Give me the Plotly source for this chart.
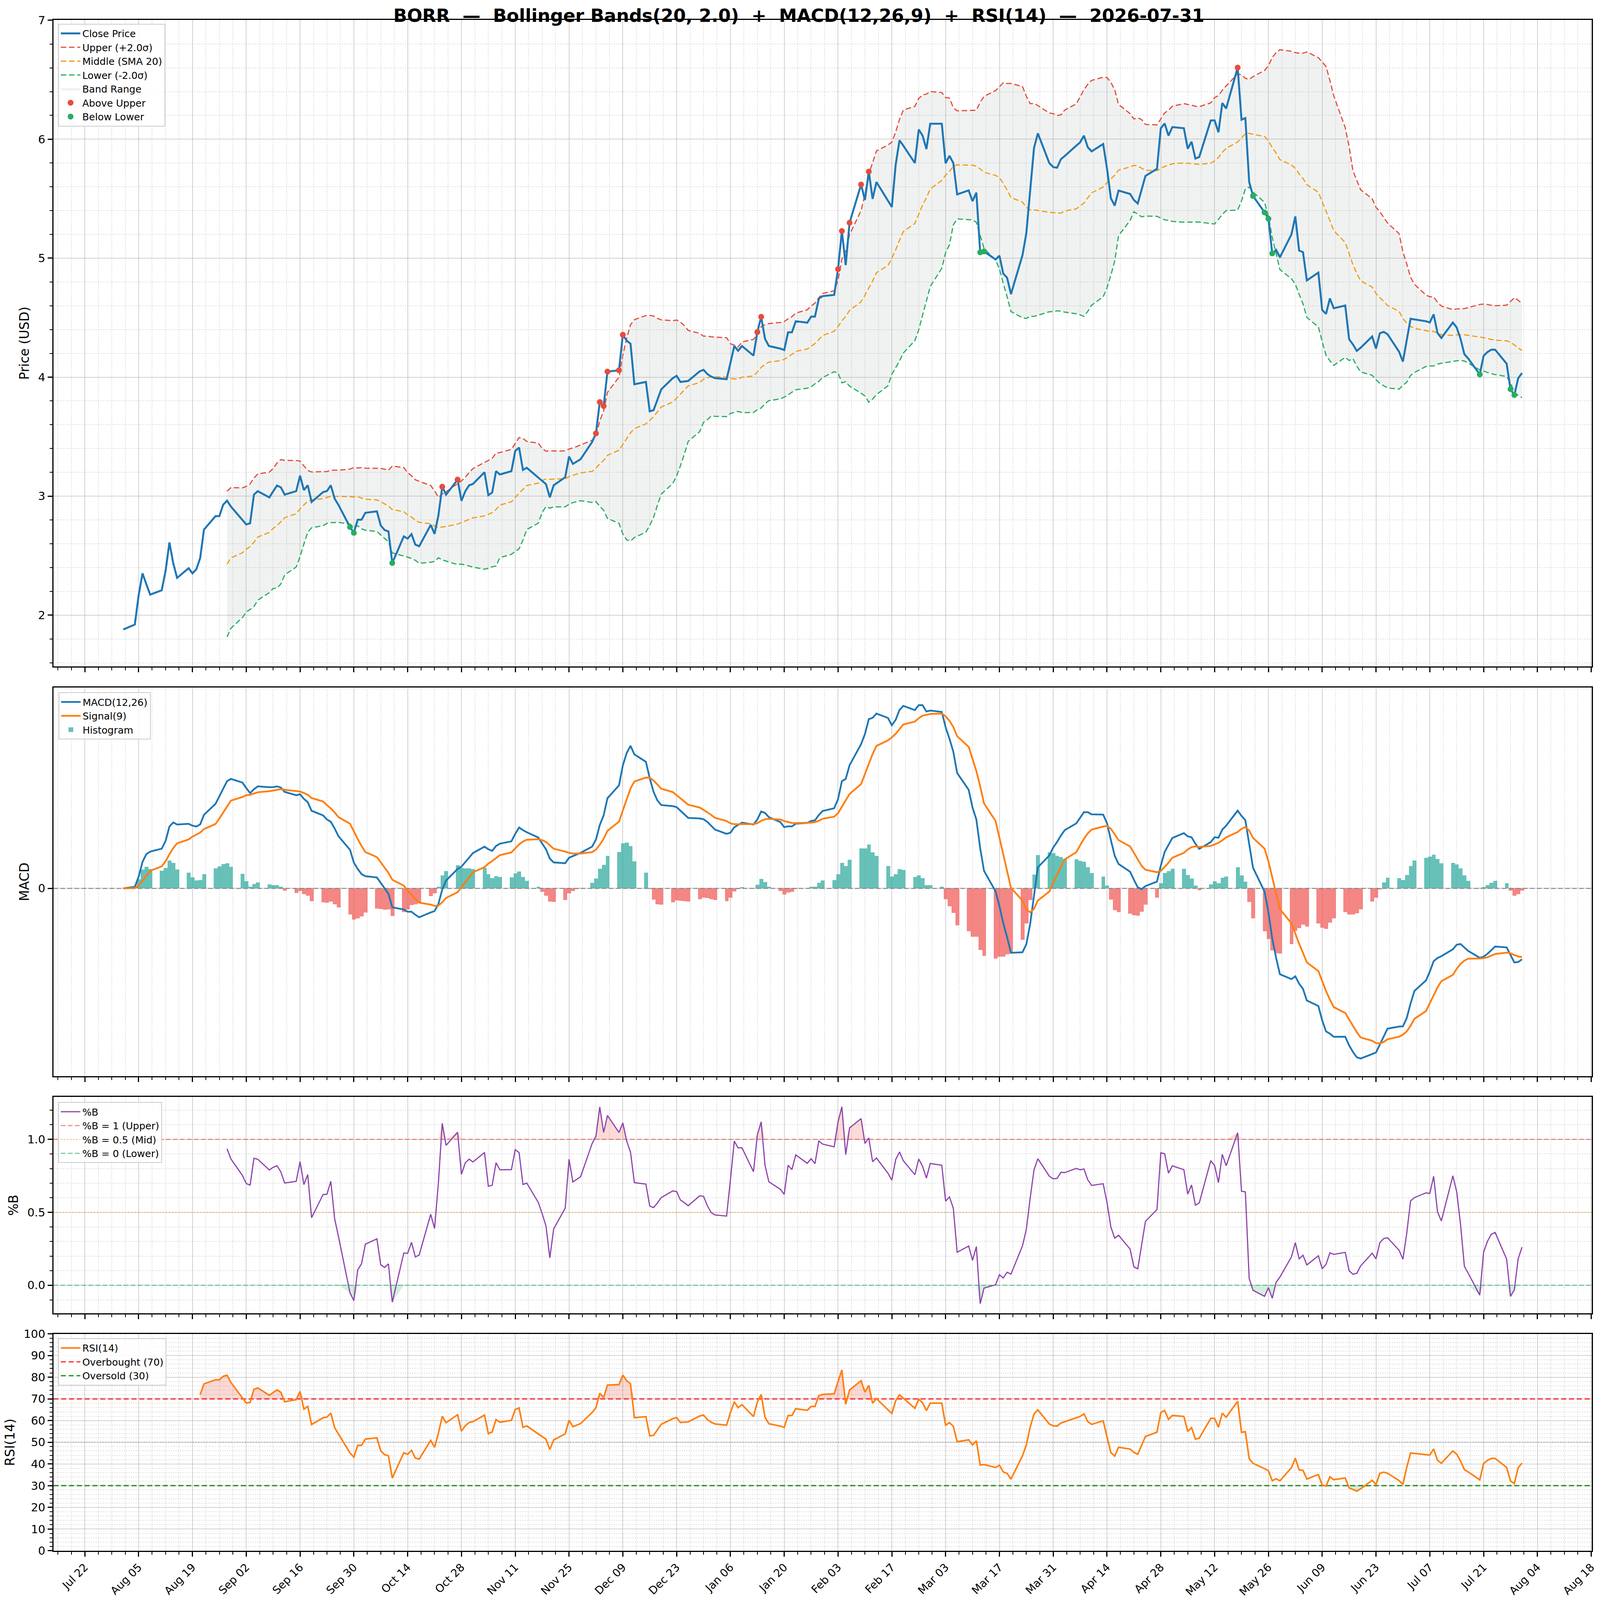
import numpy as np
import pandas as pd
import plotly.graph_objects as go
from plotly.subplots import make_subplots

# daily closes (business days)
close_aug = [1.879, 1.921, 2.168, 2.351, 2.26, 2.172, 2.209, 2.370, 2.611, 2.436, 2.313,
             2.394, 2.351, 2.385, 2.479, 2.719, 2.832, 2.832, 2.928, 2.962, 2.913]
close_sep = [2.80, 2.762, 2.772, 3.013, 3.042, 2.989, 3.04, 3.089, 3.074, 3.013,
             3.042, 3.172, 3.051, 3.091, 2.951, 3.034, 3.043, 3.091, 2.979, 2.926,
             2.740, 2.692]
close_oct = [2.802, 2.802, 2.860, 2.872, 2.753, 2.715, 2.704, 2.438, 2.662, 2.643,
             2.681, 2.592, 2.579, 2.758, 2.683, 2.838, 3.079, 3.013, 3.139, 2.961,
             3.041, 3.091, 3.103]
close_nov = [3.201, 3.008, 3.031, 3.210, 3.182, 3.210, 3.380, 3.408, 3.220, 3.238,
             3.155, 3.127, 3.101, 2.990, 3.091, 3.159, 3.333, 3.271, 3.29, 3.310]
close_dec = [3.455, 3.527, 3.791, 3.757, 4.047, 4.058, 4.356, 4.307, 4.281, 3.940,
             3.960, 3.713, 3.723, 3.810, 3.898, 3.992, 4.011, 3.960, 3.965, 3.968,
             4.049, 4.062, 4.026]
close_jan = [4.005, 3.992, 3.983, 4.119, 4.262, 4.222, 4.262, 4.181, 4.379, 4.507,
             4.322, 4.262, 4.240, 4.228, 4.377, 4.377, 4.470, 4.458, 4.509, 4.509,
             4.660, 4.681]
close_feb = [4.691, 4.908, 5.228, 4.942, 5.298, 5.619, 5.489, 5.728, 5.498, 5.640,
             5.481, 5.430, 5.785, 5.991, 5.945, 5.800, 6.081, 6.030, 5.917, 6.130]
close_mar = [6.130, 5.798, 5.860, 5.800, 5.536, 5.570, 5.479, 5.551, 5.049, 5.057,
             4.989, 5.021, 4.870, 4.836, 4.698, 5.025, 5.209, 5.577, 5.926, 6.049,
             5.798, 5.766]
close_apr = [5.760, 5.832, 5.859, 5.946, 5.974, 6.030, 5.932, 5.898, 5.960, 5.753,
             5.504, 5.442, 5.568, 5.540, 5.489, 5.460, 5.572, 5.691, 5.751, 6.092,
             6.132, 6.030]
close_may = [6.102, 6.092, 5.921, 5.979, 5.838, 5.851, 6.158, 6.158, 6.058, 6.304,
             6.258, 6.602, 6.164, 6.177, 5.640, 5.523, 5.385, 5.332, 5.040, 5.070,
             5.008]
close_jun = [5.200, 5.351, 5.064, 5.051, 4.813, 4.879, 4.564, 4.532, 4.662, 4.579,
             4.602, 4.319, 4.275, 4.221, 4.247, 4.342, 4.240, 4.369, 4.381, 4.361,
             4.214, 4.131]
close_jul = [4.312, 4.491, 4.485, 4.470, 4.460, 4.528, 4.372, 4.329, 4.459, 4.417,
             4.322, 4.193, 4.157, 4.023, 4.179, 4.211, 4.231, 4.231, 4.113, 3.899,
             3.850, 3.991, 4.035]

dates = pd.bdate_range("2025-08-01", "2026-07-31")
close = pd.Series(close_aug + close_sep + close_oct + close_nov + close_dec + close_jan +
                  close_feb + close_mar + close_apr + close_may + close_jun + close_jul,
                  index=dates)

# indicators
mid = close.rolling(20).mean()
std = close.rolling(20).std()
upper = mid + 2.0 * std
lower = mid - 2.0 * std
pctb = (close - lower) / (upper - lower)

macd = close.ewm(span=12, adjust=False).mean() - close.ewm(span=26, adjust=False).mean()
signal = macd.ewm(span=9, adjust=False).mean()
hist = macd - signal

delta = close.diff()
gain = delta.clip(lower=0).ewm(alpha=1 / 14, min_periods=14, adjust=False).mean()
loss = (-delta.clip(upper=0)).ewm(alpha=1 / 14, min_periods=14, adjust=False).mean()
rsi = 100 - 100 / (1 + gain / loss)

above = close[close > upper]
below = close[close < lower]

span = dates[-1] - dates[0]
x_lo = dates[0] - span * 0.05
x_hi = dates[-1] + span * 0.05
xr = [x_lo, x_hi]

FONT = "DejaVu Sans"
DAY = 86400000

fig = make_subplots(rows=4, cols=1, shared_xaxes=True)

# ---- price panel
bv = mid.dropna().index
fig.add_trace(go.Scatter(x=list(bv) + list(bv[::-1]),
                         y=list(upper[bv]) + list(lower[bv][::-1]),
                         fill="toself", fillcolor="rgba(149,165,166,0.14)",
                         line=dict(width=0), mode="lines", name="Band Range",
                         legendrank=5, hoverinfo="skip"), row=1, col=1)
fig.add_trace(go.Scatter(x=dates, y=upper, mode="lines", name="Upper (+2.0σ)",
                         line=dict(color="#e74c3c", width=3, dash="14px,7px"),
                         legendrank=2), row=1, col=1)
fig.add_trace(go.Scatter(x=dates, y=mid, mode="lines", name="Middle (SMA 20)",
                         line=dict(color="#f39c12", width=3, dash="14px,7px"),
                         legendrank=3), row=1, col=1)
fig.add_trace(go.Scatter(x=dates, y=lower, mode="lines", name="Lower (-2.0σ)",
                         line=dict(color="#27ae60", width=3, dash="14px,7px"),
                         legendrank=4), row=1, col=1)
fig.add_trace(go.Scatter(x=dates, y=close, mode="lines", name="Close Price",
                         line=dict(color="#1f77b4", width=5), legendrank=1), row=1, col=1)
fig.add_trace(go.Scatter(x=above.index, y=above, mode="markers", name="Above Upper",
                         marker=dict(color="#e74c3c", size=15), legendrank=6), row=1, col=1)
fig.add_trace(go.Scatter(x=below.index, y=below, mode="markers", name="Below Lower",
                         marker=dict(color="#27ae60", size=15), legendrank=7), row=1, col=1)

# ---- MACD panel
bar_colors = np.where(hist >= 0, "rgba(38,166,154,0.7)", "rgba(239,83,80,0.7)")
fig.add_trace(go.Bar(x=dates, y=hist, width=DAY, marker=dict(color=bar_colors, line=dict(width=0)),
                     name="Histogram", legend="legend2", legendrank=3), row=2, col=1)
fig.add_trace(go.Scatter(x=xr, y=[0, 0], mode="lines", showlegend=False, hoverinfo="skip",
                         line=dict(color="#888888", width=2.5, dash="12px,6px")), row=2, col=1)
fig.add_trace(go.Scatter(x=dates, y=macd, mode="lines", name="MACD(12,26)", legend="legend2",
                         line=dict(color="#1f77b4", width=4.5), legendrank=1), row=2, col=1)
fig.add_trace(go.Scatter(x=dates, y=signal, mode="lines", name="Signal(9)", legend="legend2",
                         line=dict(color="#ff7f0e", width=4.5), legendrank=2), row=2, col=1)

# ---- %B panel
pv = pctb.dropna()
fig.add_trace(go.Scatter(x=pv.index, y=np.ones(len(pv)), mode="lines", line=dict(width=0),
                         showlegend=False, hoverinfo="skip"), row=3, col=1)
fig.add_trace(go.Scatter(x=pv.index, y=np.maximum(pv, 1), mode="lines", line=dict(width=0),
                         fill="tonexty", fillcolor="rgba(231,76,60,0.2)",
                         showlegend=False, hoverinfo="skip"), row=3, col=1)
fig.add_trace(go.Scatter(x=pv.index, y=np.zeros(len(pv)), mode="lines", line=dict(width=0),
                         showlegend=False, hoverinfo="skip"), row=3, col=1)
fig.add_trace(go.Scatter(x=pv.index, y=np.minimum(pv, 0), mode="lines", line=dict(width=0),
                         fill="tonexty", fillcolor="rgba(39,174,96,0.2)",
                         showlegend=False, hoverinfo="skip"), row=3, col=1)
fig.add_trace(go.Scatter(x=xr, y=[1, 1], mode="lines", name="%B = 1 (Upper)", legend="legend3",
                         line=dict(color="rgba(231,76,60,0.7)", width=2.5, dash="12px,6px"),
                         legendrank=2), row=3, col=1)
fig.add_trace(go.Scatter(x=xr, y=[0.5, 0.5], mode="lines", name="%B = 0.5 (Mid)", legend="legend3",
                         line=dict(color="rgba(243,156,18,0.6)", width=2.5, dash="3px,5px"),
                         legendrank=3), row=3, col=1)
fig.add_trace(go.Scatter(x=xr, y=[0, 0], mode="lines", name="%B = 0 (Lower)", legend="legend3",
                         line=dict(color="rgba(39,174,96,0.7)", width=2.5, dash="12px,6px"),
                         legendrank=4), row=3, col=1)
fig.add_trace(go.Scatter(x=pv.index, y=pv, mode="lines", name="%B", legend="legend3",
                         line=dict(color="#8e44ad", width=3), legendrank=1), row=3, col=1)

# ---- RSI panel
rv = rsi.dropna()
fig.add_trace(go.Scatter(x=rv.index, y=np.full(len(rv), 70.0), mode="lines", line=dict(width=0),
                         showlegend=False, hoverinfo="skip"), row=4, col=1)
fig.add_trace(go.Scatter(x=rv.index, y=np.maximum(rv, 70), mode="lines", line=dict(width=0),
                         fill="tonexty", fillcolor="rgba(231,76,60,0.22)",
                         showlegend=False, hoverinfo="skip"), row=4, col=1)
fig.add_trace(go.Scatter(x=rv.index, y=np.full(len(rv), 30.0), mode="lines", line=dict(width=0),
                         showlegend=False, hoverinfo="skip"), row=4, col=1)
fig.add_trace(go.Scatter(x=rv.index, y=np.minimum(rv, 30), mode="lines", line=dict(width=0),
                         fill="tonexty", fillcolor="rgba(39,174,96,0.22)",
                         showlegend=False, hoverinfo="skip"), row=4, col=1)
fig.add_trace(go.Scatter(x=xr, y=[70, 70], mode="lines", name="Overbought (70)", legend="legend4",
                         line=dict(color="rgba(255,0,0,0.75)", width=3.5, dash="13px,7px"),
                         legendrank=2), row=4, col=1)
fig.add_trace(go.Scatter(x=xr, y=[30, 30], mode="lines", name="Oversold (30)", legend="legend4",
                         line=dict(color="rgba(0,128,0,0.8)", width=3.5, dash="13px,7px"),
                         legendrank=3), row=4, col=1)
fig.add_trace(go.Scatter(x=xr, y=[50, 50], mode="lines", showlegend=False, hoverinfo="skip",
                         line=dict(color="rgba(128,128,128,0.6)", width=2.5, dash="3px,4px")), row=4, col=1)
fig.add_trace(go.Scatter(x=rv.index, y=rv, mode="lines", name="RSI(14)", legend="legend4",
                         line=dict(color="#ff7f0e", width=4), legendrank=1), row=4, col=1)

# ---- axes
H = 4322.0
y_domains = [
    [1 - 1800 / H, 1 - 54 / H],
    [1 - 2907 / H, 1 - 1857 / H],
    [1 - 3548 / H, 1 - 2963 / H],
    [1 - 4189 / H, 1 - 3603 / H],
]
x_dom = [146 / 4378, 4356 / 4378]

grid_major = "rgba(180,180,180,0.6)"
grid_minor = "rgba(200,200,200,0.6)"
tickfont = dict(family=FONT, size=29, color="black")
labelfont = dict(family=FONT, size=33, color="black")

for i in range(1, 5):
    fig.update_xaxes(row=i, col=1, domain=x_dom, range=xr, type="date",
                     tick0="2025-07-22", dtick=14 * DAY, tickformat="%b %d",
                     ticks="outside", ticklen=12, tickwidth=2.5, tickcolor="black",
                     showline=True, linecolor="black", linewidth=2.5, mirror=True,
                     showgrid=True, gridcolor=grid_major, gridwidth=2,
                     minor=dict(dtick=3.5 * DAY, tick0="2025-07-22", ticks="outside",
                                ticklen=7, tickwidth=2, tickcolor="black", showgrid=True,
                                gridcolor=grid_minor, gridwidth=1.5, griddash="dot"),
                     showticklabels=(i == 4), tickangle=-45,
                     tickfont=dict(family=FONT, size=28, color="black"),
                     zeroline=False, automargin=False)

yax_common = dict(ticks="outside", ticklen=12, tickwidth=2.5, tickcolor="black",
                  showline=True, linecolor="black", linewidth=2.5, mirror=True,
                  showgrid=True, gridcolor=grid_major, gridwidth=2, zeroline=False,
                  tickfont=tickfont, title_standoff=14, automargin=False)

# price
pmin = min(lower.min(), close.min())
pmax = max(upper.max(), close.max())
pp = (pmax - pmin) * 0.05
fig.update_yaxes(row=1, col=1, domain=y_domains[0], range=[pmin - pp, max(pmax + pp, 7.002)],
                 tick0=0, dtick=1, title=dict(text="Price (USD)", font=labelfont),
                 minor=dict(dtick=0.2, ticks="outside", ticklen=7, tickwidth=2, tickcolor="black",
                            showgrid=True, gridcolor=grid_minor, gridwidth=1.5, griddash="dot"),
                 **yax_common)

# macd
mmin = min(macd.min(), signal.min(), hist.min())
mmax = max(macd.max(), signal.max(), hist.max())
mp = (mmax - mmin) * 0.05
fig.update_yaxes(row=2, col=1, domain=y_domains[1], range=[mmin - mp, mmax + mp],
                 tickmode="array", tickvals=[0], ticktext=["0"],
                 title=dict(text="MACD", font=labelfont), **yax_common)

# %B
bmin, bmax = pv.min(), pv.max()
bp = (bmax - bmin) * 0.05
fig.update_yaxes(row=3, col=1, domain=y_domains[2], range=[bmin - bp, bmax + bp],
                 tick0=0, dtick=0.5, tickformat=".1f",
                 title=dict(text="%B", font=labelfont),
                 minor=dict(dtick=0.1, ticks="outside", ticklen=7, tickwidth=2, tickcolor="black",
                            showgrid=True, gridcolor=grid_minor, gridwidth=1.5, griddash="dot"),
                 **yax_common)

# RSI
fig.update_yaxes(row=4, col=1, domain=y_domains[3], range=[0, 100.001], tick0=0, dtick=10,
                 title=dict(text="RSI(14)", font=labelfont),
                 minor=dict(dtick=2, ticks="outside", ticklen=7, tickwidth=2, tickcolor="black",
                            showgrid=True, gridcolor=grid_minor, gridwidth=1.5, griddash="dot"),
                 **yax_common)

leg_style = dict(xanchor="left", yanchor="top", bgcolor="rgba(255,255,255,0.85)",
                 bordercolor="#cccccc", borderwidth=2, traceorder="normal", itemwidth=50,
                 font=dict(family=FONT, size=25, color="black"), tracegroupgap=0)

fig.update_layout(
    autosize=True,
    margin=dict(l=0, r=0, t=0, b=0, autoexpand=False),
    paper_bgcolor="white", plot_bgcolor="white",
    font=dict(family=FONT, color="black"),
    showlegend=True, bargap=0,
    title=dict(text="<b>BORR\u00a0\u00a0—\u00a0\u00a0Bollinger Bands(20, 2.0)\u00a0\u00a0+\u00a0\u00a0"
                    "MACD(12,26,9)\u00a0\u00a0+\u00a0\u00a0RSI(14)\u00a0\u00a0—\u00a0\u00a02026-07-31</b>",
               x=0.4993, y=1 - 42 / H, xanchor="center", yanchor="middle", xref="paper", yref="paper",
               font=dict(family=FONT, size=46, color="black")),
    legend=dict(x=0.0363, y=1 - 64 / H, **leg_style),
    legend2=dict(x=0.0365, y=1 - 1870 / H, **leg_style),
    legend3=dict(x=0.0363, y=1 - 2977 / H, **leg_style),
    legend4=dict(x=0.0363, y=1 - 3615 / H, **leg_style),
)

# fill the browser viewport exactly
fit_js = ("document.documentElement.style.overflow='hidden';"
          "document.body.style.margin='0';document.body.style.overflow='hidden';"
          "var gd=document.getElementById('{plot_id}');"
          "Plotly.relayout(gd,{width:window.innerWidth,height:window.innerHeight});")

fig.write_html("out.html", default_width="100vw", default_height="100vh",
               post_script=fit_js, config={"displayModeBar": False})
